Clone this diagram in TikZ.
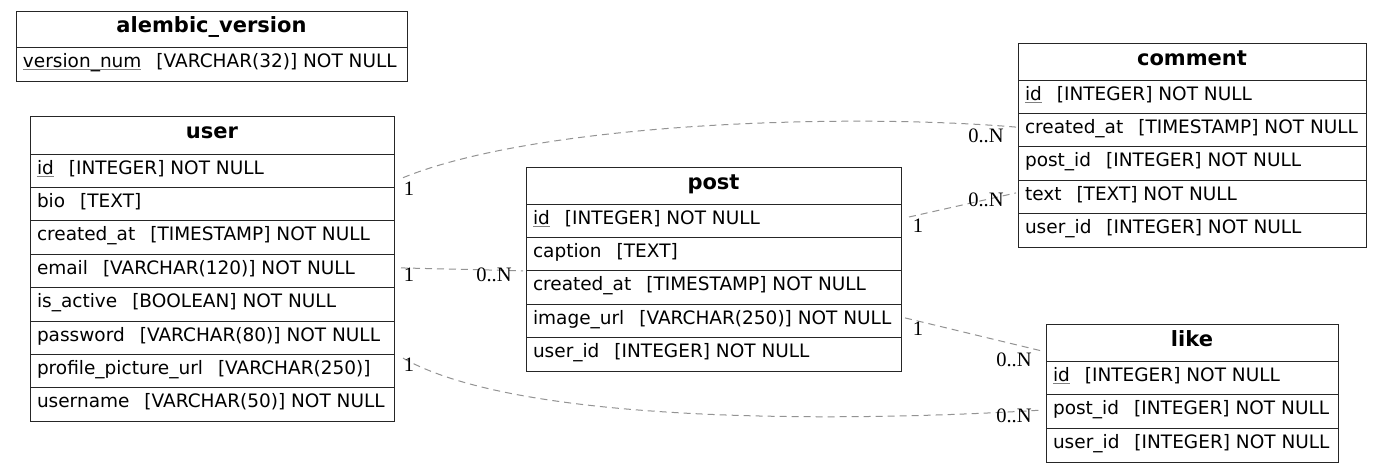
\documentclass[tikz,border=0pt]{standalone}
\usepackage{fontspec}
\setmainfont{DejaVu Sans}
\newfontfamily\lblfont{Liberation Serif}
\newlength\pkwd
\newcommand{\pk}[1]{\settowidth{\pkwd}{#1}\rlap{\textcolor{gray}{\rule[-3pt]{\pkwd}{1pt}}}#1}
\newcommand{\gap}{\hspace{15pt}}
\newcommand{\rowtxt}[2]{\makebox[#1pt][l]{#2}}
\newcommand{\hdrtxt}[2]{\makebox[#1pt][c]{#2}}
\tikzset{
  tblhdr/.style={draw=black!85, line width=1pt, outer sep=0pt, anchor=north west, inner xsep=0pt, inner ysep=0pt,
    minimum height=37pt, font=\fontsize{21}{25}\selectfont\bfseries, text height=15.4pt, text depth=8.4pt},
  tblrow/.style={draw=black!85, line width=1pt, outer sep=0pt, anchor=north west, inner xsep=7pt, inner ysep=0pt,
    minimum height=33.4pt, font=\fontsize{18.5}{22}\selectfont, text height=13.3pt, text depth=6.7pt},
  rel/.style={draw=gray!85, line width=1pt, dash pattern=on 7pt off 5pt},
  card/.style={font=\lblfont\fontsize{20.5}{24}\selectfont, inner sep=0pt}
}
\begin{document}
\begin{tikzpicture}[x=1pt,y=-1pt]
\fill[white] (0,0) rectangle (1381,472);
\useasboundingbox (0,0) rectangle (1381,472);

% alembic_version
\node[tblhdr, minimum height=36pt] (alembic) at (16,11) {\hdrtxt{391}{alembic\_version}};
\node[tblrow, minimum height=34pt] (alembic-vn) at (alembic.south west) {\rowtxt{377}{\pk{version\_num}\gap[VARCHAR(32)] NOT NULL}};

% user
\node[tblhdr, minimum height=38pt] (user) at (30,116) {\hdrtxt{364}{user}};
\node[tblrow] (user-id) at (user.south west) {\rowtxt{350}{\pk{id}\gap[INTEGER] NOT NULL}};
\node[tblrow] (user-bio) at (user-id.south west) {\rowtxt{350}{bio\gap[TEXT]}};
\node[tblrow] (user-created) at (user-bio.south west) {\rowtxt{350}{created\_at\gap[TIMESTAMP] NOT NULL}};
\node[tblrow] (user-email) at (user-created.south west) {\rowtxt{350}{email\gap[VARCHAR(120)] NOT NULL}};
\node[tblrow] (user-active) at (user-email.south west) {\rowtxt{350}{is\_active\gap[BOOLEAN] NOT NULL}};
\node[tblrow] (user-password) at (user-active.south west) {\rowtxt{350}{password\gap[VARCHAR(80)] NOT NULL}};
\node[tblrow] (user-profile) at (user-password.south west) {\rowtxt{350}{profile\_picture\_url\gap[VARCHAR(250)]}};
\node[tblrow] (user-username) at (user-profile.south west) {\rowtxt{350}{username\gap[VARCHAR(50)] NOT NULL}};

% post
\node[tblhdr] (post) at (526,167) {\hdrtxt{375}{post}};
\node[tblrow] (post-id) at (post.south west) {\rowtxt{361}{\pk{id}\gap[INTEGER] NOT NULL}};
\node[tblrow] (post-caption) at (post-id.south west) {\rowtxt{361}{caption\gap[TEXT]}};
\node[tblrow] (post-created) at (post-caption.south west) {\rowtxt{361}{created\_at\gap[TIMESTAMP] NOT NULL}};
\node[tblrow] (post-image) at (post-created.south west) {\rowtxt{361}{image\_url\gap[VARCHAR(250)] NOT NULL}};
\node[tblrow] (post-userid) at (post-image.south west) {\rowtxt{361}{user\_id\gap[INTEGER] NOT NULL}};

% comment
\node[tblhdr] (comment) at (1018,43) {\hdrtxt{348}{comment}};
\node[tblrow] (comment-id) at (comment.south west) {\rowtxt{334}{\pk{id}\gap[INTEGER] NOT NULL}};
\node[tblrow] (comment-created) at (comment-id.south west) {\rowtxt{334}{created\_at\gap[TIMESTAMP] NOT NULL}};
\node[tblrow] (comment-postid) at (comment-created.south west) {\rowtxt{334}{post\_id\gap[INTEGER] NOT NULL}};
\node[tblrow] (comment-text) at (comment-postid.south west) {\rowtxt{334}{text\gap[TEXT] NOT NULL}};
\node[tblrow] (comment-userid) at (comment-text.south west) {\rowtxt{334}{user\_id\gap[INTEGER] NOT NULL}};

% like
\node[tblhdr] (like) at (1046,324) {\hdrtxt{292}{like}};
\node[tblrow, minimum height=33.67pt] (like-id) at (like.south west) {\rowtxt{278}{\pk{id}\gap[INTEGER] NOT NULL}};
\node[tblrow, minimum height=33.67pt] (like-postid) at (like-id.south west) {\rowtxt{278}{post\_id\gap[INTEGER] NOT NULL}};
\node[tblrow, minimum height=33.67pt] (like-userid) at (like-postid.south west) {\rowtxt{278}{user\_id\gap[INTEGER] NOT NULL}};

% relationships
\draw[rel] ([xshift=9pt,yshift=-7pt]user-id.east) .. controls (540,122) and (850,113) .. ([xshift=-2pt,yshift=3pt]comment-created.west);
\draw[rel] ([xshift=8pt,yshift=3.7pt]post-id.east) -- ([xshift=-2pt,yshift=4pt]comment-text.west);
\draw[rel] ([xshift=7pt,yshift=3pt]user-email.east) -- ([xshift=-3pt]post-created.north west);
\draw[rel] ([xshift=4pt,yshift=3pt]post-image.east) -- ([xshift=-4pt,yshift=10pt]like-id.north west);
\draw[rel] ([xshift=9pt,yshift=13pt]user-profile.east) .. controls (520,425) and (850,422) .. ([xshift=-3pt,yshift=1.5pt]like-postid.west);

% cardinalities
\node[card] (c1a) at (409,189) {1};
\node[card] (c1b) at (986,136) {0..N};
\node[card] (c2a) at (918,226) {1};
\node[card] (c2b) at (986,200) {0..N};
\node[card] (c3a) at (409,275) {1};
\node[card] (c3b) at (494,275) {0..N};
\node[card] (c4a) at (918,329) {1};
\node[card] (c4b) at (1014,360) {0..N};
\node[card] (c5a) at (409,365) {1};
\node[card] (c5b) at (1014,416) {0..N};
\end{tikzpicture}
\end{document}
